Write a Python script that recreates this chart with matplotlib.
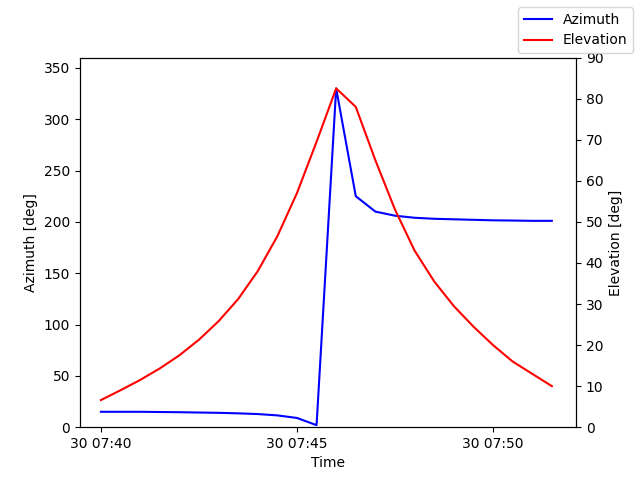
import numpy as np
import pandas as pd
import matplotlib
matplotlib.use("Agg")
import matplotlib.pyplot as plt
import matplotlib.dates as mdates

times = pd.date_range("2024-01-30 07:40:00", periods=24, freq="30s")
azimuth = [15, 15, 15, 14.8, 14.6, 14.3, 14, 13.5, 12.8, 11.5, 9, 2,
           330, 225, 210, 206, 204, 203, 202.5, 202, 201.5, 201.3, 201, 201]
elevation = [6.6, 9.0, 11.5, 14.3, 17.5, 21.3, 25.8, 31.2, 38, 46.5, 57, 69.5,
             82.5, 78, 65, 53, 43, 35.5, 29.5, 24.5, 20, 16, 13, 10]

fig, ax1 = plt.subplots(figsize=(6.4, 4.8), dpi=100)
l1, = ax1.plot(times, azimuth, color="blue", label="Azimuth")
ax1.set_ylim(0, 360)
ax1.set_ylabel("Azimuth [deg]")
ax1.set_xlabel("Time")
ax2 = ax1.twinx()
l2, = ax2.plot(times, elevation, color="red", label="Elevation")
ax2.set_ylim(0, 90)
ax2.set_ylabel("Elevation [deg]")
ax1.set_xlim(pd.Timestamp("2024-01-30 07:39:28"), pd.Timestamp("2024-01-30 07:52:07"))
ax1.xaxis.set_major_locator(mdates.MinuteLocator(byminute=[40, 45, 50]))
ax1.xaxis.set_major_formatter(mdates.DateFormatter("%d %H:%M"))
fig.legend(handles=[l1, l2], loc="upper right")
fig.subplots_adjust(left=0.125, right=0.9, top=0.88, bottom=0.11)
fig.savefig("out.png", dpi=100)
